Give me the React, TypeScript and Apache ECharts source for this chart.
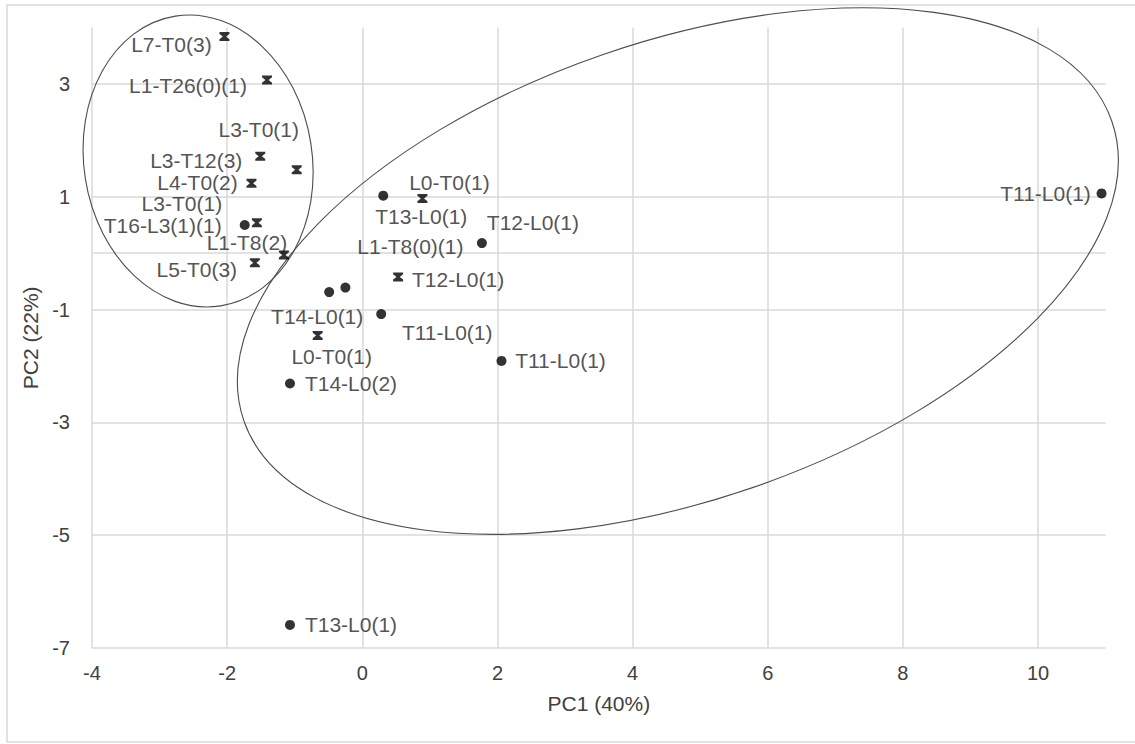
import React, { useEffect, useRef } from "react";
import * as echarts from "echarts";

// ---- data ----
const crossNames = [
  "L7-T0(3)",
  "L1-T26(0)(1)",
  "L3-T0(1)",
  "L3-T12(3)",
  "L4-T0(2)",
  "L3-T0(1)",
  "L1-T8(2)",
  "L5-T0(3)",
  "L0-T0(1)",
  "T12-L0(1)",
  "L0-T0(1)",
];
const crossX = [-2.04, -1.41, -0.97, -1.51, -1.64, -1.56, -1.16, -1.59, 0.89, 0.53, -0.66];
const crossY = [3.84, 3.07, 1.48, 1.72, 1.24, 0.54, -0.03, -0.17, 0.97, -0.42, -1.46];

const dotNames = [
  "T16-L3(1)(1)",
  "T13-L0(1)",
  "T12-L0(1)",
  "T14-L0(1)",
  "L1-T8(0)(1)",
  "T11-L0(1)",
  "T14-L0(2)",
  "T11-L0(1)",
  "T13-L0(1)",
  "T11-L0(1)",
];
const dotX = [-1.74, 0.31, 1.77, -0.49, -0.25, 0.28, -1.07, 2.06, -1.07, 10.94];
const dotY = [0.5, 1.02, 0.18, -0.69, -0.61, -1.08, -2.31, -1.91, -6.59, 1.06];

// grouping ellipses: centre (x, y), semi-axes (x-units, y-units), rotation (deg, ccw)
const ellipseCX = [-2.43, 4.67];
const ellipseCY = [1.635, -0.316];
const ellipseRX = [1.689, 6.79];
const ellipseRY = [2.6, 4.06];
const ellipseRot = [8.9, 19.0];

// axes
const xMin = -4;
const xMax = 11;
const xStep = 2;
const yMin = -7;
const yMax = 4;
const yStep = 2;
const xTitle = "PC1 (40%)";
const yTitle = "PC2 (22%)";

// ---- label placement (pixel offsets from the marker centre) ----
const crossLabelOffsets = [
  [-53, 8],
  [-79, 5],
  [-38, -40],
  [-64, 4],
  [-54, -1],
  [-75, -19.5],
  [-37, -12],
  [-58, 7],
  [27, -16],
  [60, 3],
  [14, 21],
];
const dotLabelOffsets = [
  [-82, 0],
  [38, 21],
  [51, -21],
  [-12, 24],
  [65, -41],
  [66, 18],
  [61, 0],
  [59, 0],
  [61, 0],
  [-56, 0],
];

const FONT = "'Liberation Sans', Arial, Helvetica, sans-serif";
const GRID = "#d9d9d9";
const CROSS_PATH =
  "path://M0,0L10,0L10,2L6.6,5L10,8L10,10L0,10L0,8L3.4,5L0,2Z";

export default function App() {
  const ref = useRef<HTMLDivElement>(null);

  useEffect(() => {
    if (!ref.current) return;
    const chart = echarts.init(ref.current, undefined, { renderer: "svg" });

    const crossData = crossX.map((x, i) => ({
      name: crossNames[i],
      value: [x, crossY[i]],
      label: { offset: crossLabelOffsets[i] },
    }));
    const dotData = dotX.map((x, i) => ({
      name: dotNames[i],
      value: [x, dotY[i]],
      label: { offset: dotLabelOffsets[i] },
    }));
    const ellipseData = ellipseCX.map((cx, i) => [
      cx,
      ellipseCY[i],
      ellipseRX[i],
      ellipseRY[i],
      ellipseRot[i],
    ]);

    const labelStyle = {
      show: true,
      position: "inside",
      formatter: "{b}",
      fontSize: 21,
      lineHeight: 15,
      fontFamily: FONT,
      color: "#262626",
    };

    chart.setOption({
      animation: false,
      backgroundColor: "#ffffff",
      graphic: [
        {
          type: "rect",
          silent: true,
          z: -10,
          shape: { x: 7, y: 5, width: 1140, height: 737 },
          style: { fill: "none", stroke: GRID, lineWidth: 1.5 },
        },
      ],
      grid: { left: 92, right: 29.4, top: 27.6, bottom: 96, containLabel: false },
      xAxis: {
        type: "value",
        min: xMin,
        max: xMax,
        interval: xStep,
        name: xTitle,
        nameLocation: "middle",
        nameGap: 45,
        nameTextStyle: { fontSize: 21, fontFamily: FONT, color: "#404040" },
        axisLine: { show: false },
        axisTick: { show: false },
        axisLabel: {
          fontSize: 20,
          fontFamily: FONT,
          color: "#404040",
          margin: 15,
          showMaxLabel: false,
        },
        splitLine: {
          show: true,
          showMaxLine: false,
          lineStyle: { color: GRID, width: 1.5 },
        },
      },
      yAxis: {
        type: "value",
        min: yMin,
        max: yMax,
        interval: yStep,
        name: yTitle,
        nameLocation: "middle",
        nameGap: 46,
        nameTextStyle: { fontSize: 21, fontFamily: FONT, color: "#404040" },
        axisLine: { show: false },
        axisTick: { show: false },
        axisLabel: {
          fontSize: 20,
          fontFamily: FONT,
          color: "#404040",
          margin: 22,
          showMaxLabel: false,
        },
        splitLine: {
          show: true,
          showMaxLine: false,
          lineStyle: { color: GRID, width: 1.5 },
        },
      },
      series: [
        {
          type: "custom",
          name: "groups",
          silent: true,
          clip: false,
          z: 1,
          encode: { x: 0, y: 1 },
          data: ellipseData,
          renderItem: (params: any, api: any) => {
            const c = api.coord([api.value(0), api.value(1)]);
            const s = api.size([api.value(2), api.value(3)]);
            return {
              type: "ellipse",
              x: c[0],
              y: c[1],
              rotation: (api.value(4) * Math.PI) / 180,
              shape: { cx: 0, cy: 0, rx: s[0], ry: s[1] },
              style: { fill: "none", stroke: "#4d4d4d", lineWidth: 1.1 },
            };
          },
        },
        {
          type: "scatter",
          name: "crosses",
          symbol: CROSS_PATH,
          symbolSize: [10, 9],
          itemStyle: { color: "#000000" },
          label: labelStyle,
          z: 3,
          data: crossData,
          markLine: {
            silent: true,
            symbol: "none",
            label: { show: false },
            lineStyle: { color: GRID, width: 1.5, type: "solid" },
            data: [{ yAxis: 0 }],
            z: 0,
          },
        },
        {
          type: "scatter",
          name: "dots",
          symbol: "circle",
          symbolSize: 10,
          itemStyle: { color: "#000000" },
          label: labelStyle,
          z: 3,
          data: dotData,
        },
      ],
    });

    return () => {
      chart.dispose();
    };
  }, []);

  return (
    <div
      ref={ref}
      style={{ position: "fixed", left: 0, top: 0, width: 1135, height: 744, background: "#fff" }}
    />
  );
}
